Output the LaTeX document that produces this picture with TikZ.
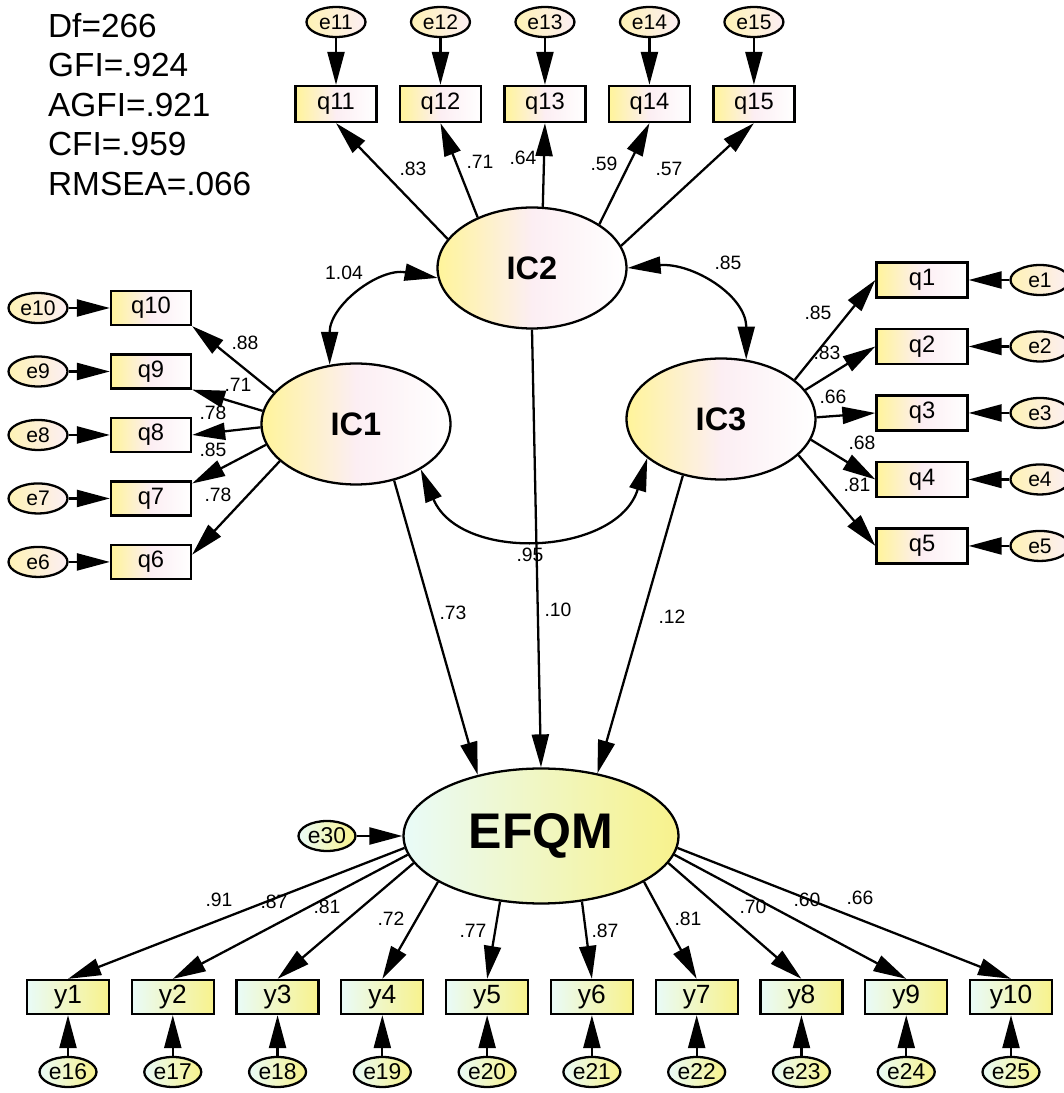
\documentclass[tikz,border=0pt]{standalone}
\usepackage{fontspec}
\setmainfont{Liberation Sans}
\usetikzlibrary{arrows.meta,shapes.geometric}

\definecolor{qyellow}{HTML}{FFF49A}
\definecolor{qpink}{HTML}{FCEEF3}
\definecolor{ymint}{HTML}{E9FBF8}
\definecolor{yyellow}{HTML}{F8F28C}

\begin{document}
\begin{tikzpicture}[->,>={Triangle[length=0.66cm,width=0.34cm]},line width=1.3pt,
  x=0.02cm,y=0.02cm,
  factor node/.style={ellipse,draw,inner sep=0pt,minimum width=3.78cm,minimum height=2.42cm,
    left color=qyellow,right color=white,middle color=qpink,font=\fontsize{18.5}{20}\selectfont\bfseries},
  item node/.style={rectangle,draw,inner sep=0pt,minimum width=1.62cm,minimum height=0.72cm,
    left color=qyellow,right color=white,middle color=qpink,font=\fontsize{13.5}{15}\selectfont},
  error node/.style={ellipse,draw,inner sep=0pt,minimum width=1.18cm,minimum height=0.6cm,
    left color=qyellow!70!qpink,right color=qpink,font=\fontsize{12}{13}\selectfont},
  outcome node/.style={ellipse,draw,inner sep=0pt,minimum width=5.5cm,minimum height=2.7cm,
    left color=ymint,right color=yyellow,font=\fontsize{28.5}{30}\selectfont\bfseries},
  y node/.style={rectangle,draw,inner sep=0pt,minimum width=1.64cm,minimum height=0.68cm,
    left color=ymint,right color=yyellow,font=\fontsize{15}{16}\selectfont},
  y error/.style={ellipse,draw,inner sep=0pt,minimum width=1.14cm,minimum height=0.6cm,
    left color=ymint,right color=yyellow,font=\fontsize{13}{14}\selectfont},
  coef/.style={inner sep=0pt,font=\fontsize{11}{12}\selectfont}]

  \useasboundingbox (0,0) rectangle (1063,1093);

  % fit indices
  \node[anchor=north west,align=left,inner sep=0pt,font=\fontsize{19}{22.5}\selectfont] (fit)
    at (47,1081) {Df=266\\GFI=.924\\AGFI=.921\\CFI=.959\\RMSEA=.066};

  % latent variables
  \node[factor node] (IC2) at (532,825) {IC2};
  \node[factor node] (IC1) at (356,669) {IC1};
  \node[factor node] (IC3) at (721,674) {IC3};
  \node[outcome node] (EFQM) at (541,257) {EFQM};
  \node[y error] (e30) at (327,257) {e30};

  % IC2 items
  \begin{scope}[node distance=2.09cm]
  \node[item node] (q11) at (336,989) {q11};
  \node[item node] (q12) [right of=q11] {q12};
  \node[item node] (q13) [right of=q12] {q13};
  \node[item node] (q14) [right of=q13] {q14};
  \node[item node] (q15) [right of=q14] {q15};
  \end{scope}
  \begin{scope}[node distance=1.64cm]
  \node[error node] (e11) [above of=q11] {e11};
  \node[error node] (e12) [above of=q12] {e12};
  \node[error node] (e13) [above of=q13] {e13};
  \node[error node] (e14) [above of=q14] {e14};
  \node[error node] (e15) [above of=q15] {e15};
  \end{scope}

  % IC1 items
  \begin{scope}[node distance=1.27cm,item node/.append style={minimum width=1.6cm,minimum height=0.68cm}]
  \node[item node] (q10) at (151,785) {q10};
  \node[item node] (q9) [below of=q10] {q9};
  \node[item node] (q8) [below of=q9] {q8};
  \node[item node] (q7) [below of=q8] {q7};
  \node[item node] (q6) [below of=q7] {q6};
  \end{scope}
  \begin{scope}[node distance=2.26cm]
  \node[error node] (e10) [left of=q10] {e10};
  \node[error node] (e9) [left of=q9] {e9};
  \node[error node] (e8) [left of=q8] {e8};
  \node[error node] (e7) [left of=q7] {e7};
  \node[error node] (e6) [left of=q6] {e6};
  \end{scope}

  % IC3 items
  \begin{scope}[node distance=1.33cm,item node/.append style={minimum width=1.82cm,minimum height=0.7cm}]
  \node[item node] (q1) at (922,813) {q1};
  \node[item node] (q2) [below of=q1] {q2};
  \node[item node] (q3) [below of=q2] {q3};
  \node[item node] (q4) [below of=q3] {q4};
  \node[item node] (q5) [below of=q4] {q5};
  \end{scope}
  \begin{scope}[node distance=2.36cm]
  \node[error node] (e1) [right of=q1] {e1};
  \node[error node] (e2) [right of=q2] {e2};
  \node[error node] (e3) [right of=q3] {e3};
  \node[error node] (e4) [right of=q4] {e4};
  \node[error node] (e5) [right of=q5] {e5};
  \end{scope}

  % EFQM indicators
  \begin{scope}[node distance=2.096cm]
  \node[y node] (y1) at (68,96) {y1};
  \node[y node] (y2) [right of=y1] {y2};
  \node[y node] (y3) [right of=y2] {y3};
  \node[y node] (y4) [right of=y3] {y4};
  \node[y node] (y5) [right of=y4] {y5};
  \node[y node] (y6) [right of=y5] {y6};
  \node[y node] (y7) [right of=y6] {y7};
  \node[y node] (y8) [right of=y7] {y8};
  \node[y node] (y9) [right of=y8] {y9};
  \node[y node] (y10) [right of=y9] {y10};
  \end{scope}
  \begin{scope}[node distance=1.5cm]
  \node[y error] (e16) [below of=y1] {e16};
  \node[y error] (e17) [below of=y2] {e17};
  \node[y error] (e18) [below of=y3] {e18};
  \node[y error] (e19) [below of=y4] {e19};
  \node[y error] (e20) [below of=y5] {e20};
  \node[y error] (e21) [below of=y6] {e21};
  \node[y error] (e22) [below of=y7] {e22};
  \node[y error] (e23) [below of=y8] {e23};
  \node[y error] (e24) [below of=y9] {e24};
  \node[y error] (e25) [below of=y10] {e25};
  \end{scope}

  % error terms
  \path
    (e11) edge (q11) (e12) edge (q12) (e13) edge (q13) (e14) edge (q14) (e15) edge (q15)
    (e10) edge (q10) (e9) edge (q9) (e8) edge (q8) (e7) edge (q7) (e6) edge (q6)
    (e1) edge (q1) (e2) edge (q2) (e3) edge (q3) (e4) edge (q4) (e5) edge (q5)
    (e16) edge (y1) (e17) edge (y2) (e18) edge (y3) (e19) edge (y4) (e20) edge (y5)
    (e21) edge (y6) (e22) edge (y7) (e23) edge (y8) (e24) edge (y9) (e25) edge (y10)
    (e30) edge (EFQM);

  % loadings
  \path
    (IC2.161) edge (q11.south)
    (IC2.137) edge (q12.south)
    (IC2.80) edge (q13.south)
    (IC2.33) edge (q14.south)
    (IC2.14) edge (q15.south)
    (IC1.159) edge (q10.south east)
    (IC1.172) edge (q9.south east)
    (IC1.182) edge (q8.east)
    (IC1.193) edge (q7.20)
    (IC1.206) edge (q6.10)
    (IC3.28) edge (q1.west)
    (IC3.19) edge (q2.west)
    (IC3.1) edge (q3.west)
    (IC3.347) edge (q4.west)
    (IC3.335) edge (q5.west)
    (EFQM.185) edge (y1.north)
    (EFQM.188) edge (y2.north)
    (EFQM.192) edge (y3.north)
    (EFQM.204) edge (y4.north)
    (EFQM.238) edge (y5.north)
    (EFQM.302) edge (y6.north)
    (EFQM.336) edge (y7.north)
    (EFQM.348) edge (y8.north)
    (EFQM.352) edge (y9.north)
    (EFQM.355) edge (y10.north);

  % structural paths
  \path
    (IC1.304) edge (EFQM.136)
    (IC2.south) edge (EFQM.north)
    (IC3.236) edge (EFQM.48);

  % covariances
  \draw[<->] (IC1.114) to[out=90,in=170,looseness=1.1] (IC2.186);
  \draw[<->] (IC2.east) to[out=5,in=90,looseness=1.1] (IC3.67);
  \draw[<->] (IC1.325) to[out=-67,in=-107,looseness=1.15] (IC3.208);

  % coefficients
  \node[coef] (c11) at (413,924) {.83};
  \node[coef] (c12) at (480,931) {.71};
  \node[coef] (c13) at (523,935) {.64};
  \node[coef] (c14) at (604,929) {.59};
  \node[coef] (c15) at (669,924) {.57};
  \node[coef] (c10) at (245,750) {.88};
  \node[coef] (c9) at (238,708) {.71};
  \node[coef] (c8) at (213,680) {.78};
  \node[coef] (c7) at (213,643) {.85};
  \node[coef] (c6) at (218,598) {.78};
  \node[coef] (c1) at (818,780) {.85};
  \node[coef] (c2) at (827,740) {.83};
  \node[coef] (c3) at (833,696) {.66};
  \node[coef] (c4) at (862,650) {.68};
  \node[coef] (c5) at (857,608) {.81};
  \node[coef] (cov12) at (344,820) {1.04};
  \node[coef] (cov23) at (728,830) {.85};
  \node[coef] (cov13) at (530,538) {.95};
  \node[coef] (b1) at (453,480) {.73};
  \node[coef] (b2) at (558,483) {.10};
  \node[coef] (b3) at (672,476) {.12};
  \node[coef] (d1) at (219,193) {.91};
  \node[coef] (d2) at (274,191) {.87};
  \node[coef] (d3) at (327,186) {.81};
  \node[coef] (d4) at (391,174) {.72};
  \node[coef] (d5) at (473,162) {.77};
  \node[coef] (d6) at (605,162) {.87};
  \node[coef] (d7) at (688,174) {.81};
  \node[coef] (d8) at (753,186) {.70};
  \node[coef] (d9) at (807,193) {.60};
  \node[coef] (d10) at (860,195) {.66};

\end{tikzpicture}
\end{document}
